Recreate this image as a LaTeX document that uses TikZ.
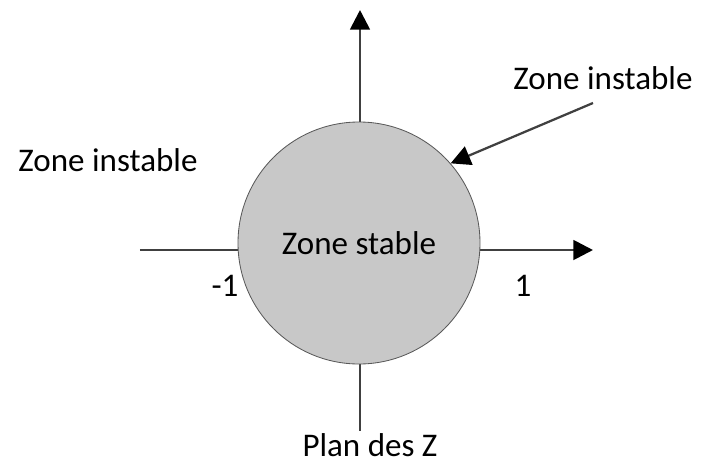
\documentclass[tikz,border=0pt]{standalone}
\usepackage{fontspec}
\setmainfont{Carlito}
\usetikzlibrary{arrows.meta}
\definecolor{diskGray}{RGB}{200,200,200}
\definecolor{axisGray}{RGB}{64,64,64}
\tikzset{
  axis/.style={axisGray, line width=2pt},
  tip/.style={-{Triangle[length=14pt, width=14pt, color=black]}},
  label/.style={font=\fontsize{23.5}{28}\selectfont, inner sep=0pt}
}

\begin{document}
\begin{tikzpicture}
        \useasboundingbox (-8.975,-5.575) rectangle (8.575,6.075);
        % axes
        \coordinate (xl) at (-5.475,-0.175);
        \coordinate (xr) at (5.85,-0.175);
        \coordinate (yt) at (0.025,5.825);
        \coordinate (yb) at (0.025,-4.7);
        \draw[axis, tip] (xl) -- (xr);
        \draw[axis, tip] (0.025,0) -- (yt);
        \draw[axis] (0.025,0) -- (yb);
        % disk
        \node[circle, draw=black!65, fill=diskGray, line width=0.6pt,
              minimum size=6.05cm, inner sep=0pt] (zone) at (0,0) {};
        \node[label] (stable) at (0,0) {Zone stable};
        \node[label] (m1) at (-3.35,-1.075) {-1};
        \node[label] (p1) at (4.1,-1.075) {1};
        \node[label] (left) at (-6.275,2.075) {Zone instable};
        \node[label] (right) at (6.1,4.125) {Zone instable};
        \node[label, anchor=base] (plan) at (0.275,-5.33) {Plan des Z};
        \coordinate (from) at (5.85,3.5);
        \draw[axis, line width=1.6pt, tip] (from) -- (zone.41);
      \end{tikzpicture}
\end{document}
